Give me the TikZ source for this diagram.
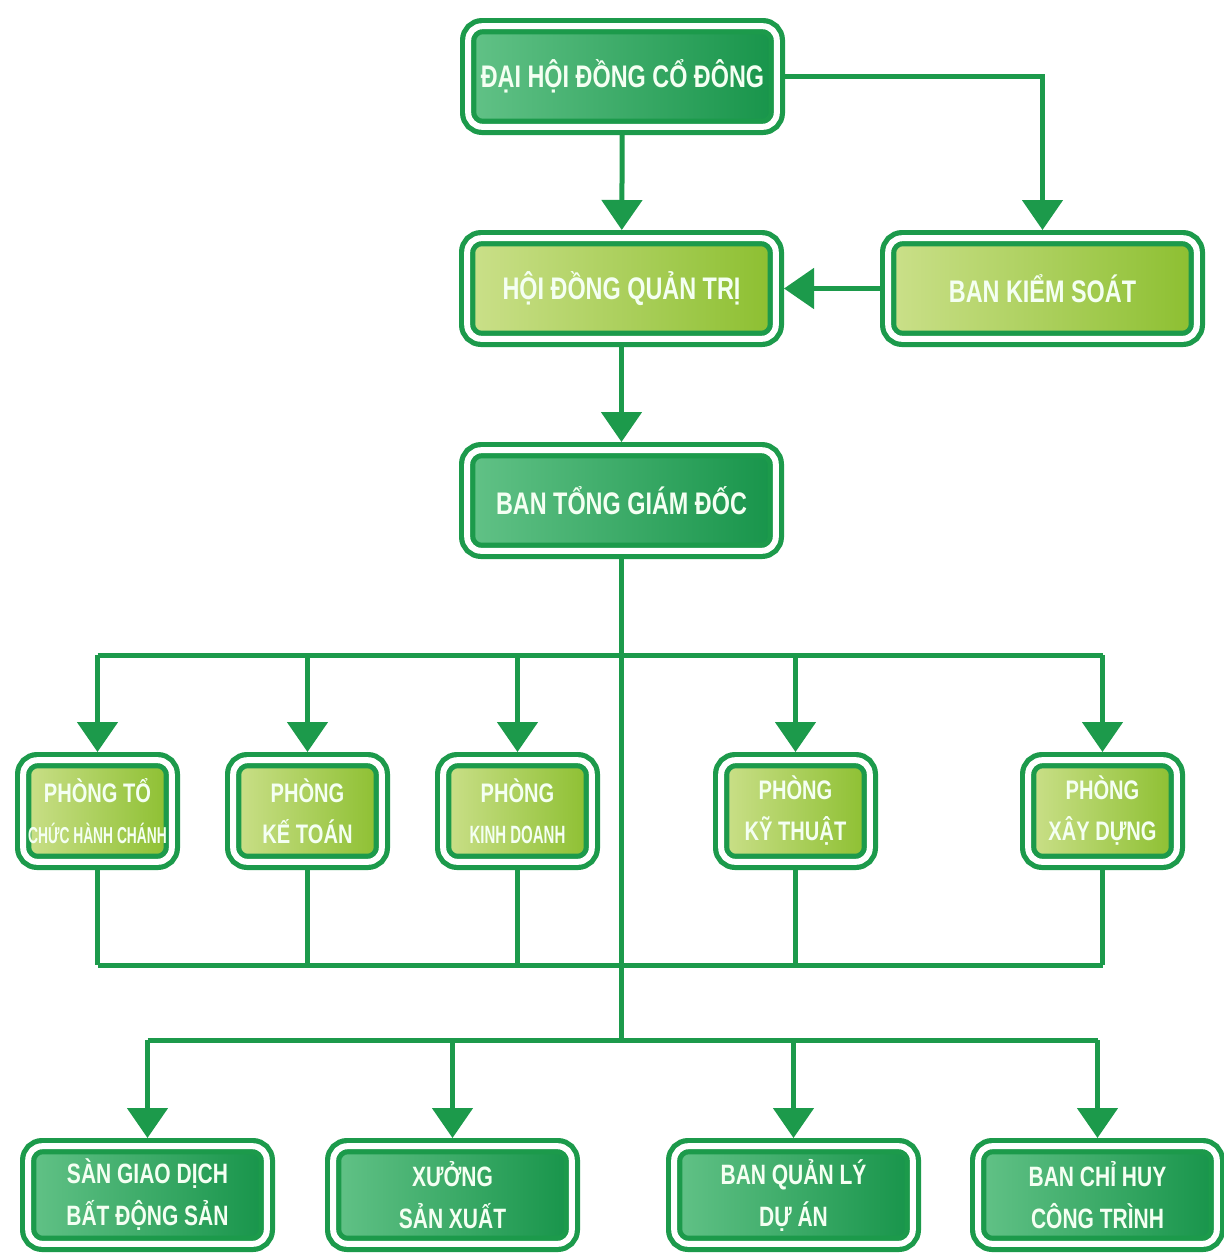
\documentclass[tikz,border=0pt]{standalone}
\usepackage{fontspec}
\newfontfamily\cf{Liberation Sans}[FakeStretch=0.75]
\newfontfamily\cfn{Liberation Sans}[FakeStretch=0.6]
\usetikzlibrary{arrows.meta}
\definecolor{lg}{HTML}{1C9A4B}
\definecolor{dkA}{HTML}{62C287}
\definecolor{dkB}{HTML}{17944A}
\definecolor{ygA}{HTML}{CBE08A}
\definecolor{ygB}{HTML}{8CBF30}
\definecolor{txt}{HTML}{F4FFF2}
\tikzset{
  box/.style={draw=lg, line width=2.6pt, double=white, double distance=3pt,
    rounded corners=7pt, outer sep=4.1pt, align=center, text=txt, inner sep=1pt},
  dk/.style={box, left color=dkA, right color=dkB},
  yg/.style={box, left color=ygA, right color=ygB},
  big/.style={minimum width=154.3pt, minimum height=50.3pt,
    font=\cf\bfseries\fontsize{15.6}{18}\selectfont},
  mid/.style={minimum width=74.3pt, minimum height=50.8pt,
    font=\cf\bfseries\fontsize{13.4}{20.5}\selectfont},
  low/.style={minimum width=119.3pt, minimum height=48.8pt,
    font=\cf\bfseries\fontsize{14}{21}\selectfont},
  con/.style={draw=lg, line width=2.5pt},
  arr/.style={con, -{Triangle[width=20pt,length=15pt]}},
}
\begin{document}
\begin{tikzpicture}[x=0.5pt,y=-0.5pt]
\useasboundingbox[fill=white] (0,0) rectangle (1224,1255);
% top levels
\node[dk,big] (dh) at (622.5,76.5) {ĐẠI HỘI ĐỒNG CỔ ĐÔNG};
\node[yg,big] (hd) at (621.5,288.5) {HỘI ĐỒNG QUẢN TRỊ};
\node[yg,big] (bks) at (1042.5,288.5) {BAN KIỂM SOÁT};
\node[dk,big] (tg) at (621.5,500.5) {BAN TỔNG GIÁM ĐỐC};
% departments
\node[yg,mid] (p1) at (97.5,811) {PHÒNG TỔ\\{\cfn\fontsize{11.5}{20.5}\selectfont CHỨC HÀNH CHÁNH}};
\node[yg,mid] (p2) at (307.5,811) {PHÒNG\\KẾ TOÁN};
\node[yg,mid] (p3) at (517.5,811) {PHÒNG\\{\cfn\fontsize{12.5}{20.5}\selectfont KINH DOANH}};
\node[yg,mid] (p4) at (795.5,811) {PHÒNG\\KỸ THUẬT};
\node[yg,mid] (p5) at (1102.5,811) {PHÒNG\\XÂY DỰNG};
% bottom units
\node[dk,low] (s1) at (147.5,1195) {SÀN GIAO DỊCH\\BẤT ĐỘNG SẢN};
\node[dk,low] (s2) at (452.5,1195) {XƯỞNG\\SẢN XUẤT};
\node[dk,low] (s3) at (793.5,1195) {BAN QUẢN LÝ\\DỰ ÁN};
\node[dk,low] (s4) at (1097.5,1195) {BAN CHỈ HUY\\CÔNG TRÌNH};
% junctions
\coordinate (j1) at (621.5,655);
\coordinate (j2) at (621.5,965);
\coordinate (j3) at (621.5,1040);
% connectors
\draw[arr] (dh) -- (hd);
\draw[arr] (dh.east) -| (bks.north);
\draw[arr] (bks.west) -- (hd.east);
\draw[arr] (hd) -- (tg);
\draw[con] (tg.south) -- (j3);
\draw[con] (p1.north |- j1) -- (p5.north |- j1);
\foreach \p in {p1,p2,p3,p4,p5}{
  \draw[arr] (\p.north |- j1) -- (\p.north);
  \draw[con] (\p.south) -- (\p.south |- j2);
}
\draw[con] (p1.south |- j2) -- (p5.south |- j2);
\draw[con] (s1.north |- j3) -- (s4.north |- j3);
\foreach \s in {s1,s2,s3,s4}{
  \draw[arr] (\s.north |- j3) -- (\s.north);
}
\end{tikzpicture}
\end{document}
